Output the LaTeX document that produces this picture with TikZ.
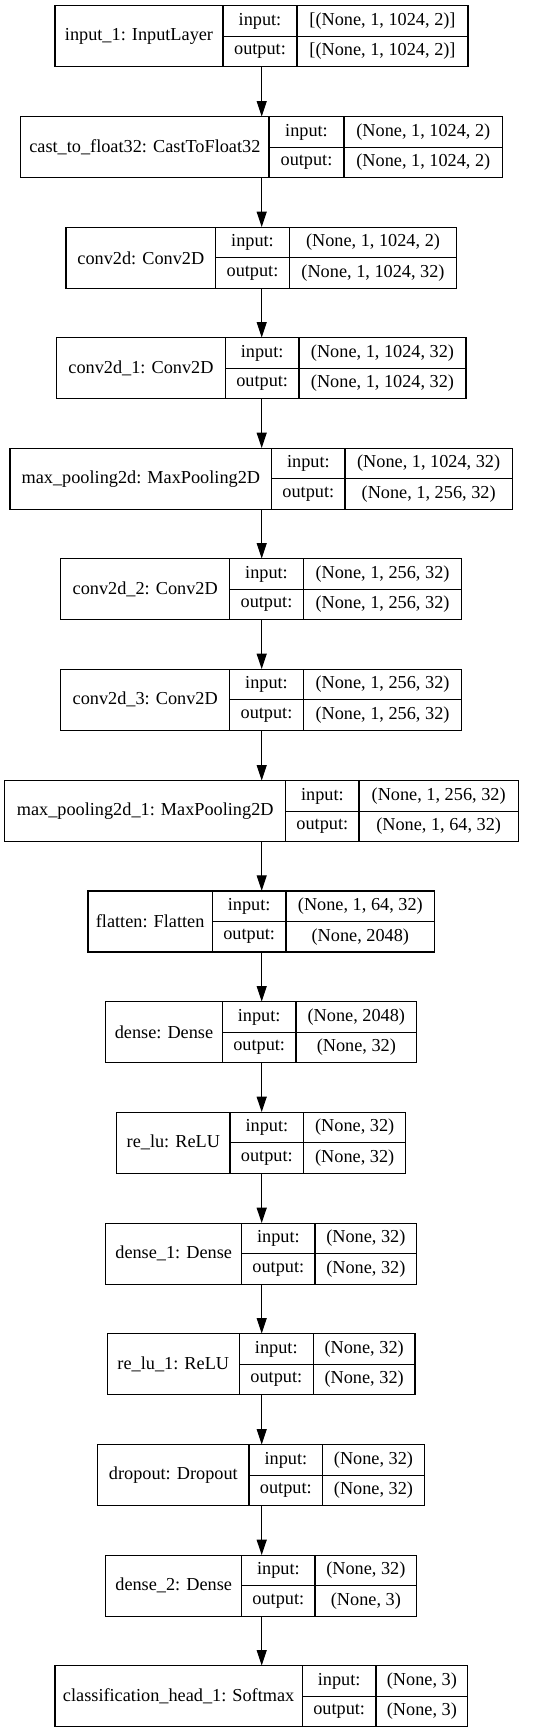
\documentclass[tikz,border=0pt]{standalone}
\usepackage{fontspec}
\setmainfont{Liberation Serif}
\usetikzlibrary{arrows.meta,fit}
\tikzset{
  boxline/.style={draw=black, line width=0.8pt},
  lbl/.style={inner sep=0pt, font=\fontsize{13.7}{16}\selectfont},
  arr/.style={draw=black, line width=0.8pt, -{Triangle[length=11.5pt,width=7.5pt]}},
}
\newcommand\layer[9]{%
  \draw[boxline] (#3,#2) rectangle (#6,{#2+61});
  \draw[boxline] (#4,#2) -- (#4,{#2+61});
  \draw[boxline] (#5,#2) -- (#5,{#2+61});
  \draw[boxline] (#4,{#2+30.5}) -- (#6,{#2+30.5});
  \node[inner sep=0pt, fit={(#3,#2) (#6,{#2+61})}] (#1) {};
  \node[lbl] (#1n) at ({(#3+#4)/2},{#2+30.5}) {#7};
  \node[lbl] (#1il) at ({(#4+#5)/2},{#2+15.25}) {input:};
  \node[lbl] (#1ol) at ({(#4+#5)/2},{#2+45.75}) {output:};
  \node[lbl] (#1iv) at ({(#5+#6)/2},{#2+15.25}) {#8};
  \node[lbl] (#1ov) at ({(#5+#6)/2},{#2+45.75}) {#9};
}
\begin{document}
\begin{tikzpicture}[x=0.75pt,y=-0.75pt]
\useasboundingbox (0,0) rectangle (549,1733);
\fill[white] (0,0) rectangle (549,1733);
\coordinate (ax) at (261.7,0);
\layer{La}{5.7}{55}{223}{297}{468}{input\_1: InputLayer}{[(None, 1, 1024, 2)]}{[(None, 1, 1024, 2)]}
\layer{Lb}{116.7}{20.7}{269}{344}{502.7}{cast\_to\_float32: CastToFloat32}{(None, 1, 1024, 2)}{(None, 1, 1024, 2)}
\layer{Lc}{227.3}{66}{215.7}{289.3}{456.7}{conv2d: Conv2D}{(None, 1, 1024, 2)}{(None, 1, 1024, 32)}
\layer{Ld}{337.7}{56.7}{225.3}{299}{466}{conv2d\_1: Conv2D}{(None, 1, 1024, 32)}{(None, 1, 1024, 32)}
\layer{Le}{448.3}{10}{271.7}{345}{512.3}{max\_pooling2d: MaxPooling2D}{(None, 1, 1024, 32)}{(None, 1, 256, 32)}
\layer{Lf}{558.7}{60.7}{229.7}{303.3}{461.7}{conv2d\_2: Conv2D}{(None, 1, 256, 32)}{(None, 1, 256, 32)}
\layer{Lg}{669.3}{60.7}{229.7}{303.3}{461.7}{conv2d\_3: Conv2D}{(None, 1, 256, 32)}{(None, 1, 256, 32)}
\layer{Lh}{780.7}{4.7}{285.7}{359}{518.3}{max\_pooling2d\_1: MaxPooling2D}{(None, 1, 256, 32)}{(None, 1, 64, 32)}
\layer{Li}{891}{88}{212.3}{286}{434.7}{flatten: Flatten}{(None, 1, 64, 32)}{(None, 2048)}
\layer{Lj}{1001.7}{105.7}{222.3}{296}{416.7}{dense: Dense}{(None, 2048)}{(None, 32)}
\layer{Lk}{1112.3}{116.7}{230}{303.7}{405.7}{re\_lu: ReLU}{(None, 32)}{(None, 32)}
\layer{Ll}{1223.3}{105.7}{241.7}{315}{416.7}{dense\_1: Dense}{(None, 32)}{(None, 32)}
\layer{Lm}{1333.7}{107.3}{239.3}{313.3}{415}{re\_lu\_1: ReLU}{(None, 32)}{(None, 32)}
\layer{Ln}{1444.7}{97.7}{249}{322.7}{424.3}{dropout: Dropout}{(None, 32)}{(None, 32)}
\layer{Lo}{1555.3}{105.7}{241.7}{315}{416.7}{dense\_2: Dense}{(None, 32)}{(None, 3)}
\layer{Lp}{1665.7}{55}{302.3}{376}{467.7}{classification\_head\_1: Softmax}{(None, 3)}{(None, 3)}
\foreach \a/\b in {La/Lb,Lb/Lc,Lc/Ld,Ld/Le,Le/Lf,Lf/Lg,Lg/Lh,Lh/Li,Li/Lj,Lj/Lk,Lk/Ll,Ll/Lm,Lm/Ln,Ln/Lo,Lo/Lp}
  \draw[arr] (\a.south -| ax) -- (\b.north -| ax);
\end{tikzpicture}
\end{document}
